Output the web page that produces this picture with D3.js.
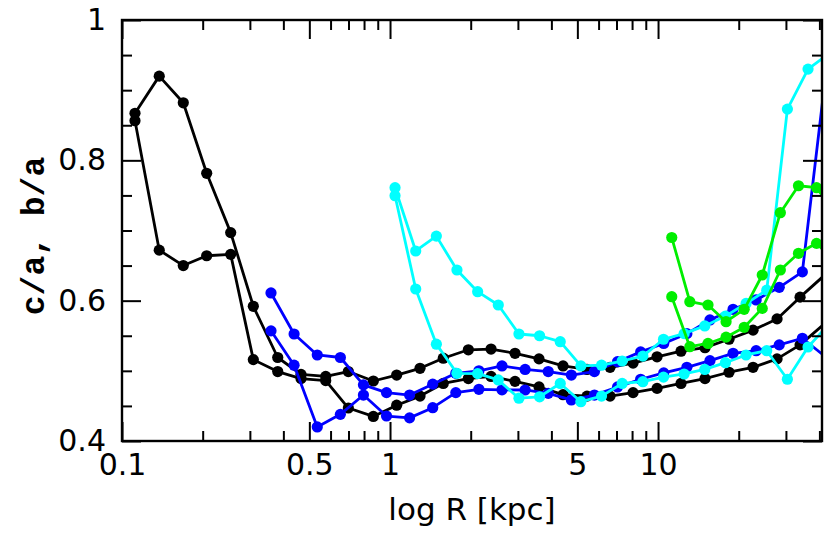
<!DOCTYPE html>
<html><head><meta charset="utf-8">
<script src="https://cdn.jsdelivr.net/npm/d3@7"></script>
<style>body{margin:0;background:#fff}</style>
</head><body>
<script>
// ---- tick values / labels ----
const xTickMajor = [0.1, 0.5, 1, 5, 10];
const xTickLabels = ["0.1", "0.5", "1", "5", "10"];
const xTickMinor = [0.2, 0.3, 0.4, 0.6, 0.7, 0.8, 0.9, 2, 3, 4, 6, 7, 8, 9, 20, 30, 40];
const yTickMajor = [0.4, 0.6, 0.8, 1.0];
const yTickLabels = ["0.4", "0.6", "0.8", "1"];
const yTickMinor = [0.45, 0.5, 0.55, 0.65, 0.7, 0.75, 0.85, 0.9, 0.95];

// ---- black model ----
const blackR = [0.1118, 0.1377, 0.1693, 0.2070, 0.2544, 0.3090, 0.3811, 0.4655, 0.5756, 0.6990,
  0.8664, 1.059, 1.294, 1.580, 1.960, 2.382, 2.927, 3.597, 4.421, 5.433,
  6.622, 8.068, 9.915, 12.18, 14.97, 18.40, 22.62, 27.80, 33.88, 41.45];
const blackBA = [0.867, 0.920, 0.882, 0.7815, 0.697, 0.592, 0.519, 0.495, 0.492, 0.499,
  0.4855, 0.494, 0.5036, 0.518, 0.530, 0.531, 0.525, 0.517, 0.507, 0.502,
  0.505, 0.511, 0.520, 0.528, 0.533, 0.545, 0.558, 0.574, 0.605, 0.635];
const blackCA = [0.8565, 0.672, 0.650, 0.664, 0.666, 0.516, 0.499, 0.489, 0.486, 0.447,
  0.435, 0.451, 0.464, 0.482, 0.489, 0.492, 0.485, 0.477, 0.466, 0.464,
  0.464, 0.469, 0.475, 0.482, 0.489, 0.498, 0.505, 0.517, 0.537, 0.566];

// ---- blue model ----
const blueR = [0.3597, 0.4386, 0.5352, 0.6528, 0.7958, 0.9703, 1.183, 1.443, 1.760, 2.146,
  2.617, 3.192, 3.893, 4.748, 5.789, 7.062, 8.612, 10.50, 12.81, 15.62,
  19.05, 23.23, 28.33, 34.55, 42.13];
const blueBA = [0.611, 0.5525, 0.5226, 0.519, 0.480, 0.469, 0.4655, 0.481, 0.4965, 0.500,
  0.507, 0.502, 0.499, 0.494, 0.499, 0.513, 0.527, 0.539, 0.553, 0.5725,
  0.5877, 0.601, 0.619, 0.641, 0.919];
const blueCA = [0.557, 0.508, 0.420, 0.438, 0.4655, 0.4356, 0.433, 0.4475, 0.469, 0.4737,
  0.473, 0.4727, 0.468, 0.4585, 0.4655, 0.477, 0.488, 0.497, 0.505, 0.5145,
  0.525, 0.5287, 0.537, 0.5464, 0.520];

// ---- cyan model ----
const cyanR = [1.044, 1.247, 1.489, 1.777, 2.123, 2.535, 3.027, 3.614, 4.316, 5.153,
  6.154, 7.348, 8.776, 10.48, 12.51, 14.94, 17.84, 21.30, 25.44, 30.38,
  36.28, 43.32];
const cyanBA = [0.761, 0.6708, 0.692, 0.6437, 0.6128, 0.5938, 0.5525, 0.550, 0.5415, 0.507,
  0.508, 0.514, 0.521, 0.545, 0.553, 0.564, 0.578, 0.596, 0.615, 0.873,
  0.930, 0.952];
const cyanCA = [0.7496, 0.6166, 0.538, 0.4965, 0.496, 0.487, 0.461, 0.463, 0.482, 0.456,
  0.464, 0.482, 0.4845, 0.491, 0.4955, 0.502, 0.5116, 0.5226, 0.5287, 0.488,
  0.534, 0.566];

// ---- green model ----
const greenR = [11.25, 13.14, 15.36, 17.94, 20.96, 24.48, 28.60, 33.42, 39.03, 45.60];
const greenBA = [0.690, 0.5985, 0.5938, 0.570, 0.5877, 0.6366, 0.7254, 0.7638, 0.761, 0.726];
const greenCA = [0.6057, 0.5344, 0.539, 0.548, 0.562, 0.589, 0.6437, 0.6675, 0.6817, 0.656];

const seriesList = [
  {R: blackR, v: blackBA, color: "#000000"},
  {R: blackR, v: blackCA, color: "#000000"},
  {R: blueR, v: blueBA, color: "#0000ff"},
  {R: blueR, v: blueCA, color: "#0000ff"},
  {R: cyanR, v: cyanBA, color: "#00ffff"},
  {R: cyanR, v: cyanCA, color: "#00ffff"},
  {R: greenR, v: greenBA, color: "#00ee00"},
  {R: greenR, v: greenCA, color: "#00ee00"}
];

const W = 830, H = 534;
const L = 122, Rt = 822, T = 20, B = 441;
const xMax = 40.9;

const svg = d3.select("body").append("svg").attr("width", W).attr("height", H)
  .style("font-family", "'DejaVu Sans', sans-serif");

const x = d3.scaleLog().domain([0.1, xMax]).range([L, Rt]);
const y = d3.scaleLinear().domain([0.4, 1.0]).range([B, T]);

svg.append("defs").append("clipPath").attr("id", "plotclip")
  .append("rect").attr("x", L).attr("y", T).attr("width", Rt - L).attr("height", B - T);

const plot = svg.append("g").attr("clip-path", "url(#plotclip)");
const line = d3.line().x(d => x(d[0])).y(d => y(d[1]));

seriesList.forEach(s => {
  const pts = s.R.map((r, i) => [r, s.v[i]]);
  plot.append("path").datum(pts).attr("d", line)
    .attr("fill", "none").attr("stroke", s.color).attr("stroke-width", 2.8)
    .attr("stroke-linejoin", "round");
  plot.selectAll(null).data(pts.filter(p => p[0] <= xMax)).enter().append("circle")
    .attr("cx", d => x(d[0])).attr("cy", d => y(d[1])).attr("r", 5.6)
    .attr("fill", s.color);
});

// axes (ticks inside on all four sides)
function styleAxis(g) {
  g.select(".domain").remove();
  g.selectAll(".tick line").attr("stroke", "#000").attr("stroke-width", 2);
}
const fmtX = d => xTickLabels[xTickMajor.indexOf(d)];
const fmtY = d => yTickLabels[yTickMajor.findIndex(v => Math.abs(v - d) < 1e-9)];

svg.append("g").attr("transform", `translate(0,${B})`)
  .call(d3.axisBottom(x).tickValues(xTickMajor).tickSize(-19).tickPadding(13).tickFormat(fmtX))
  .call(styleAxis)
  .selectAll("text").attr("font-size", 30).attr("fill", "#000").attr("font-family", "'DejaVu Sans', sans-serif");
svg.append("g").attr("transform", `translate(0,${B})`)
  .call(d3.axisBottom(x).tickValues(xTickMinor).tickSize(-10).tickFormat(""))
  .call(styleAxis);
svg.append("g").attr("transform", `translate(0,${T})`)
  .call(d3.axisTop(x).tickValues(xTickMajor).tickSize(-19).tickFormat(""))
  .call(styleAxis);
svg.append("g").attr("transform", `translate(0,${T})`)
  .call(d3.axisTop(x).tickValues(xTickMinor).tickSize(-10).tickFormat(""))
  .call(styleAxis);

svg.append("g").attr("transform", `translate(${L},0)`)
  .call(d3.axisLeft(y).tickValues(yTickMajor).tickSize(-19).tickPadding(16).tickFormat(fmtY))
  .call(styleAxis)
  .selectAll("text").attr("font-size", 30).attr("fill", "#000").attr("font-family", "'DejaVu Sans', sans-serif");
svg.append("g").attr("transform", `translate(${L},0)`)
  .call(d3.axisLeft(y).tickValues(yTickMinor).tickSize(-10).tickFormat(""))
  .call(styleAxis);
svg.append("g").attr("transform", `translate(${Rt},0)`)
  .call(d3.axisRight(y).tickValues(yTickMajor).tickSize(-19).tickFormat(""))
  .call(styleAxis);
svg.append("g").attr("transform", `translate(${Rt},0)`)
  .call(d3.axisRight(y).tickValues(yTickMinor).tickSize(-10).tickFormat(""))
  .call(styleAxis);

// frame
svg.append("rect").attr("x", L).attr("y", T).attr("width", Rt - L).attr("height", B - T)
  .attr("fill", "none").attr("stroke", "#000").attr("stroke-width", 2.4);

// axis titles
svg.append("text").attr("x", 472).attr("y", 520).attr("text-anchor", "middle")
  .attr("font-size", 31).attr("fill", "#000").text("log R [kpc]");
svg.append("text").attr("transform", "translate(44,236) rotate(-90)")
  .attr("text-anchor", "middle").attr("font-size", 33).attr("font-weight", "bold")
  .attr("font-family", "'Liberation Mono', 'DejaVu Sans Mono', monospace")
  .attr("fill", "#000").text("c/a, b/a");
</script>
</body></html>
